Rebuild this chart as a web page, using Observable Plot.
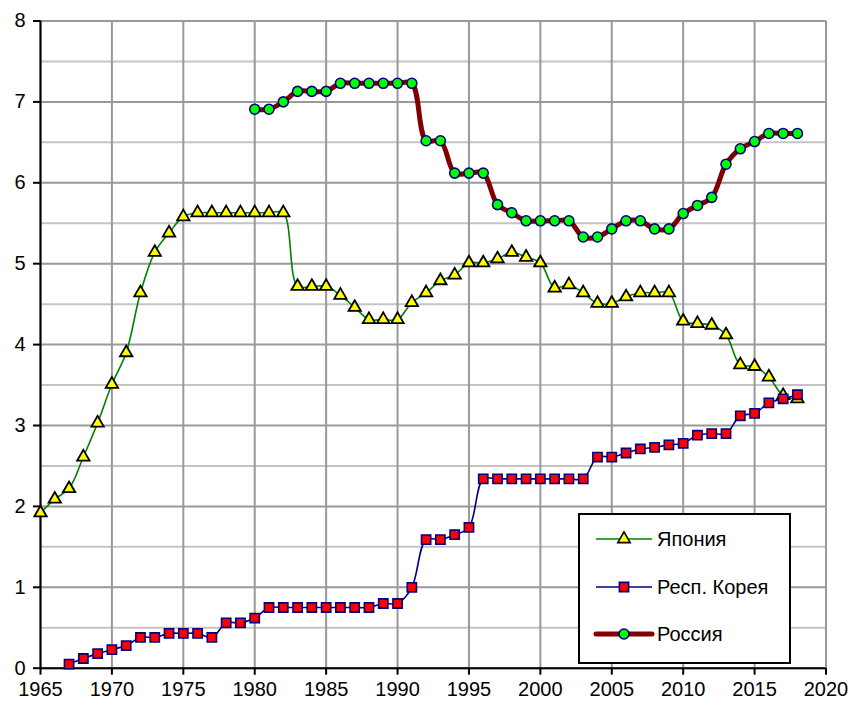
<!DOCTYPE html>
<html><head><meta charset="utf-8">
<script src="https://cdn.jsdelivr.net/npm/d3@7"></script>
<script src="https://cdn.jsdelivr.net/npm/@observablehq/plot@0.6"></script>
<style>
body{margin:0;background:#fff;}
#wrap{position:relative;width:852px;height:704px;overflow:hidden;}
#legend{position:absolute;left:578px;top:513px;}
</style></head><body><div id="wrap"></div>
<script>
// ---- Data ----
const seriesNames = ["Япония", "Респ. Корея", "Россия"];

const japanYears = d3.range(1965, 2019);
const japanValues = [
  1.92, 2.09, 2.22, 2.61, 3.03, 3.51, 3.90, 4.64, 5.14, 5.38,
  5.58, 5.63, 5.63, 5.63, 5.63, 5.63, 5.63, 5.63, 4.72, 4.72,
  4.72, 4.61, 4.46, 4.31, 4.31, 4.31, 4.52, 4.64, 4.79, 4.86,
  5.01, 5.01, 5.06, 5.14, 5.08, 5.01, 4.70, 4.74, 4.64, 4.51,
  4.51, 4.59, 4.64, 4.64, 4.64, 4.29, 4.26, 4.24, 4.12, 3.75,
  3.73, 3.60, 3.37, 3.33
];

const koreaYears = d3.range(1967, 2019);
const koreaValues = [
  0.05, 0.12, 0.18, 0.23, 0.28, 0.38, 0.38, 0.43, 0.43, 0.43,
  0.38, 0.56, 0.56, 0.62, 0.75, 0.75, 0.75, 0.75, 0.75, 0.75,
  0.75, 0.75, 0.80, 0.80, 1.00, 1.59, 1.59, 1.65, 1.74, 2.34,
  2.34, 2.34, 2.34, 2.34, 2.34, 2.34, 2.34, 2.61, 2.61, 2.66,
  2.71, 2.73, 2.76, 2.78, 2.88, 2.90, 2.90, 3.12, 3.15, 3.28,
  3.33, 3.38
];

const russiaYears = d3.range(1980, 2019);
const russiaValues = [
  6.91, 6.91, 7.00, 7.13, 7.13, 7.13, 7.23, 7.23, 7.23, 7.23,
  7.23, 7.23, 6.52, 6.52, 6.12, 6.12, 6.12, 5.73, 5.63, 5.53,
  5.53, 5.53, 5.53, 5.33, 5.33, 5.43, 5.53, 5.53, 5.43, 5.43,
  5.62, 5.72, 5.82, 6.23, 6.42, 6.51, 6.61, 6.61, 6.61
];

const xTicks = [1965, 1970, 1975, 1980, 1985, 1990, 1995, 2000, 2005, 2010, 2015, 2020];
const yTicks = [0, 1, 2, 3, 4, 5, 6, 7, 8];
const yMinorTicks = [0.5, 1.5, 2.5, 3.5, 4.5, 5.5, 6.5, 7.5];

const japan = japanYears.map((y, i) => ({year: y, value: japanValues[i]}));
const korea = koreaYears.map((y, i) => ({year: y, value: koreaValues[i]}));
const russia = russiaYears.map((y, i) => ({year: y, value: russiaValues[i]}));

const FONT = '"Liberation Sans", Arial, sans-serif';
const curve = "catmull-rom";

const chart = Plot.plot({
  width: 852,
  height: 704,
  marginLeft: 40,
  marginRight: 26.5,
  marginTop: 20.5,
  marginBottom: 36.3,
  style: {fontFamily: FONT, fontSize: "20px", background: "#fff", color: "#000"},
  x: {domain: [1965, 2020], label: null},
  y: {domain: [0, 8], label: null},
  marks: [
    Plot.gridY(yMinorTicks, {stroke: "#c4c4c4", strokeOpacity: 1, strokeWidth: 2}),
    Plot.gridY(yTicks, {stroke: "#999", strokeOpacity: 1, strokeWidth: 2}),
    Plot.gridX(xTicks, {stroke: "#999", strokeOpacity: 1, strokeWidth: 2}),
    Plot.axisY({ticks: yTicks, tickSize: 7, tickPadding: 8, fontSize: 20, strokeWidth: 2, label: null}),
    Plot.axisX({ticks: xTicks, tickSize: 7, tickPadding: 7, fontSize: 20, strokeWidth: 2, tickFormat: "d", label: null}),
    Plot.ruleY([0], {stroke: "#000", strokeWidth: 2}),
    Plot.ruleX([1965], {stroke: "#000", strokeWidth: 2}),
    // Japan
    Plot.line(japan, {x: "year", y: "value", stroke: "#008000", strokeWidth: 1.6, curve}),
    Plot.dot(japan, {x: "year", y: "value", symbol: "triangle", r: 4.6, fill: "#ffff00", stroke: "#000", strokeWidth: 1.8}),
    // Korea
    Plot.line(korea, {x: "year", y: "value", stroke: "#000080", strokeWidth: 1.6, curve}),
    Plot.dot(korea, {x: "year", y: "value", symbol: "square", r: 5.2, fill: "#ff0000", stroke: "#000080", strokeWidth: 1.6}),
    // Russia
    Plot.line(russia, {x: "year", y: "value", stroke: "#800000", strokeWidth: 5, curve}),
    Plot.dot(russia, {x: "year", y: "value", symbol: "circle", r: 5, fill: "#00ff00", stroke: "#000080", strokeWidth: 1.6})
  ]
});

const wrap = document.getElementById("wrap");
wrap.appendChild(chart);

// ---- Legend (overlay) ----
const legendItems = [
  {name: seriesNames[0], stroke: "#008000", width: 1.6, symbol: d3.symbolTriangle, size: Math.PI * 4.6 * 4.6, fill: "#ffff00", mstroke: "#000", cap: "butt"},
  {name: seriesNames[1], stroke: "#000080", width: 1.6, symbol: d3.symbolSquare, size: Math.PI * 5.2 * 5.2, fill: "#ff0000", mstroke: "#000080", cap: "butt"},
  {name: seriesNames[2], stroke: "#800000", width: 5, symbol: d3.symbolCircle, size: Math.PI * 25, fill: "#00ff00", mstroke: "#000080", cap: "round"}
];
const lg = d3.select(wrap).append("svg")
  .attr("id", "legend").attr("width", 214).attr("height", 152)
  .style("font-family", FONT).style("font-size", "20px");
lg.append("rect").attr("x", 1).attr("y", 1).attr("width", 211).attr("height", 149)
  .attr("fill", "#fff").attr("stroke", "#000").attr("stroke-width", 2);
const rowY = [26, 74, 121];
legendItems.forEach((d, i) => {
  const g = lg.append("g").attr("transform", `translate(0,${rowY[i]})`);
  g.append("line").attr("x1", 18).attr("x2", 74).attr("stroke", d.stroke)
    .attr("stroke-width", d.width).attr("stroke-linecap", d.cap);
  g.append("path").attr("transform", "translate(46,0)")
    .attr("d", d3.symbol(d.symbol, d.size)()).attr("fill", d.fill)
    .attr("stroke", d.mstroke).attr("stroke-width", 1.6);
  g.append("text").attr("x", 79).attr("dy", "0.35em").text(d.name);
});
</script>
</body></html>
